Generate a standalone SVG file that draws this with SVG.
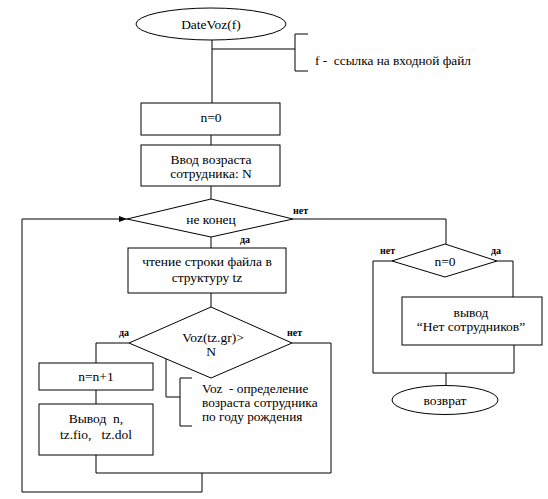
<svg xmlns="http://www.w3.org/2000/svg" width="548" height="499" viewBox="0 0 548 499">
<style>
.s{fill:#fff;stroke:#000;stroke-width:1}
.l{fill:none;stroke:#000;stroke-width:1}
text{font-family:'Liberation Serif','Times New Roman',serif;font-size:13.5px;fill:#000;white-space:pre}
.c{text-anchor:middle}
.lb{font-size:10px;font-weight:bold}
.n{font-size:13.3px}
</style>
<defs>
<marker id="ar" markerWidth="8" markerHeight="6" refX="8" refY="3" orient="auto" markerUnits="userSpaceOnUse">
<path d="M0,0 L8,3 L0,6 Z" fill="#000"/>
</marker>
</defs>
<rect width="548" height="499" fill="#fff"/>
<g id="connectors">
<path class="l" d="M212,40 V103"/>
<path class="l" d="M212,49 H295 M308,34 H295 V71 H308"/>
<path class="l" d="M211,135 V145"/>
<path class="l" d="M211,186 V199"/>
<path class="l" d="M211,237 V248"/>
<path class="l" d="M211,293 V307"/>
<path class="l" d="M129,343 H96 V363 M96,390 V404 M96,455 V473 H331 V343 H292"/>
<path class="l" d="M202,473 V492 H22 V219 H127" marker-end="url(#ar)"/>
<path class="l" d="M166,358 V397 H180 M192,378 H180 V426 H192"/>
<path class="l" d="M293,219 H446 V244"/>
<path class="l" d="M392,261 H373 V373 H514 V345 M497,261 H513 V297"/>
<path class="l" d="M446,373 V386"/>
</g>
<g id="start"><ellipse class="s" cx="211" cy="24" rx="75" ry="16"/><text class="c" x="211" y="29">DateVoz(f)</text></g>
<g id="note1"><text class="n" x="315" y="65" xml:space="preserve">f -  ссылка на входной файл</text></g>
<g id="n0"><rect class="s" x="141" y="103" width="139" height="32"/><text class="c" x="211" y="122">n=0</text></g>
<g id="input"><rect class="s" x="141" y="145" width="139" height="41"/><text class="c" x="211" y="164">Ввод возраста</text><text class="c" x="211" y="178">сотрудника: N</text></g>
<g id="loop"><polygon class="s" points="211,199 293,219 211,237 127,219"/><text class="c" x="211" y="224">не конец</text><text class="lb" x="293" y="214">нет</text><text class="lb" x="240" y="243">да</text></g>
<g id="read"><rect class="s" x="128" y="248" width="158" height="45"/><text class="c" x="207" y="266">чтение строки файла в</text><text class="c" x="207" y="282">структуру tz</text></g>
<g id="cond"><polygon class="s" points="211,307 292,343 211,378 129,343"/><text class="c" x="213" y="342">Voz(tz.gr)&gt;</text><text class="c" x="211" y="356">N</text><text class="lb" x="119" y="336">да</text><text class="lb" x="287" y="336">нет</text></g>
<g id="inc"><rect class="s" x="39" y="363" width="114" height="27"/><text class="c" x="96" y="381">n=n+1</text></g>
<g id="out"><rect class="s" x="39" y="404" width="114" height="51"/><text class="c" x="96" y="423" xml:space="preserve">Вывод  n,</text><text class="c" x="96" y="439" xml:space="preserve">tz.fio,   tz.dol</text></g>
<g id="note2"><text class="n" x="202" y="393" xml:space="preserve">Voz  - определение</text><text class="n" x="202" y="407">возраста сотрудника</text><text class="n" x="202" y="421">по году рождения</text></g>
<g id="zero"><polygon class="s" points="445,244 497,261 445,277 392,261"/><text class="c" x="445" y="266">n=0</text><text class="lb" x="380" y="254">нет</text><text class="lb" x="491" y="254">да</text></g>
<g id="none"><rect class="s" x="402" y="297" width="140" height="48"/><text class="c" x="471" y="317">вывод</text><text class="c" x="471" y="331">“Нет сотрудников”</text></g>
<g id="end"><ellipse class="s" cx="445" cy="400" rx="53" ry="14.5"/><text class="c" x="445" y="405">возврат</text></g>
</svg>
